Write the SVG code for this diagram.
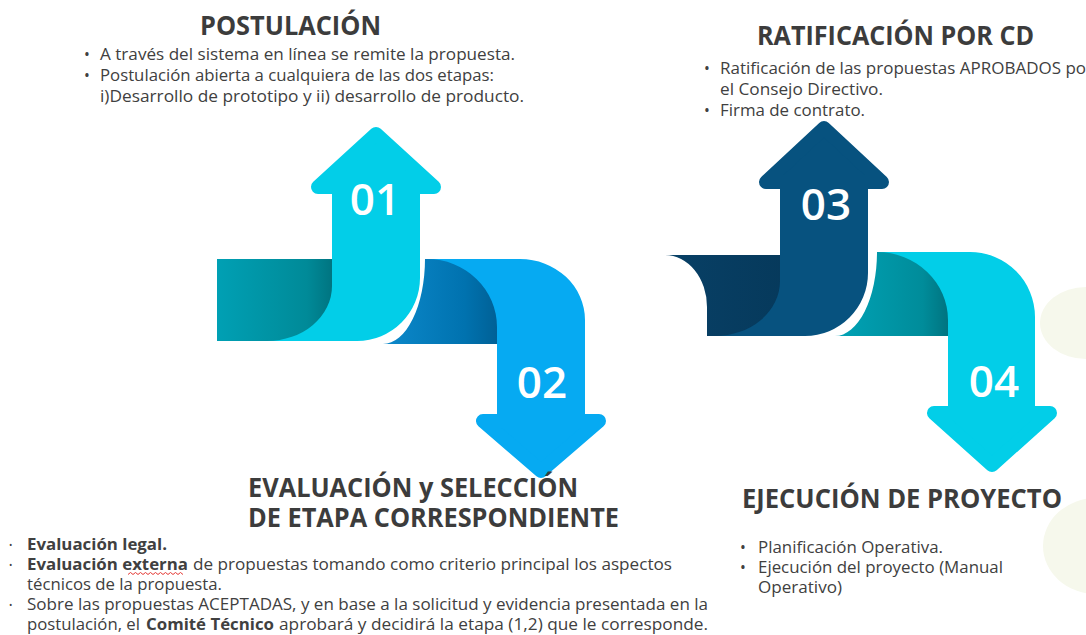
<svg xmlns="http://www.w3.org/2000/svg" width="1086" height="635" viewBox="0 0 1086 635">
<defs>
  <linearGradient id="gTeal1" gradientUnits="userSpaceOnUse" x1="217" y1="0" x2="337" y2="0">
    <stop offset="0" stop-color="#00A0B4"/>
    <stop offset="0.75" stop-color="#008A98"/>
    <stop offset="1" stop-color="#00707C"/>
  </linearGradient>
  <linearGradient id="gTeal4" gradientUnits="userSpaceOnUse" x1="835" y1="0" x2="952" y2="0">
    <stop offset="0" stop-color="#00A3B6"/>
    <stop offset="0.75" stop-color="#008C9A"/>
    <stop offset="1" stop-color="#00707C"/>
  </linearGradient>
  <linearGradient id="gBlue2" gradientUnits="userSpaceOnUse" x1="383" y1="0" x2="500" y2="0">
    <stop offset="0" stop-color="#0C89CB"/>
    <stop offset="0.7" stop-color="#0072AF"/>
    <stop offset="1" stop-color="#005F94"/>
  </linearGradient>
  <linearGradient id="gNavy" gradientUnits="userSpaceOnUse" x1="665" y1="0" x2="790" y2="0">
    <stop offset="0" stop-color="#084066"/>
    <stop offset="1" stop-color="#06395B"/>
  </linearGradient>
  <style>
    .title{font-family:"Open Sans","Liberation Sans",sans-serif;font-weight:700;font-size:27px;fill:#3c3c3c}
    .body{font-family:"Open Sans","Liberation Sans",sans-serif;font-size:15.5px;fill:#404040}
    .b{font-weight:700}
    .tiny{font-family:"Open Sans","Liberation Sans",sans-serif;font-size:9px;fill:#404040}
    .num{font-family:"Open Sans","Liberation Sans",sans-serif;font-weight:600;font-size:44px;fill:#ffffff;text-anchor:middle}
    .head{stroke-width:14;stroke-linejoin:round}
    .blob{fill:#F6F8EC}
  </style>
</defs>
<rect width="1086" height="635" fill="#ffffff"/>

<g id="background">
  <ellipse class="blob" cx="1086" cy="323" rx="46" ry="36"/>
  <ellipse class="blob" cx="1096" cy="546" rx="53" ry="48"/>
</g>

<g id="step01">
  <rect x="217" y="259" width="120" height="82" fill="url(#gTeal1)"/>
  <path d="M267 341 L357 341 A63 63 0 0 0 420 278 L420 190 L332 190 L332 286 A65 55 0 0 1 267 341 Z" fill="#02CEE8"/>
  <polygon class="head" points="318,187 434,187 376,134" fill="#02CEE8" stroke="#02CEE8"/>
  <text class="num" x="375" y="215">01</text>
  <text class="title" x="200" y="35" textLength="181" lengthAdjust="spacingAndGlyphs">POSTULACIÓN</text>
  <text class="body" x="84" y="60">•</text>
  <text class="body" x="100" y="60" textLength="415" lengthAdjust="spacingAndGlyphs">A través del sistema en línea se remite la propuesta.</text>
  <text class="body" x="84" y="81">•</text>
  <text class="body" x="100" y="81" textLength="394" lengthAdjust="spacingAndGlyphs">Postulación abierta a cualquiera de las dos etapas:</text>
  <text class="body" x="100" y="102" textLength="424" lengthAdjust="spacingAndGlyphs">i)Desarrollo de prototipo y ii) desarrollo de producto.</text>
</g>

<g id="step02">
  <path d="M425 259 L500 259 L500 344 L383 344 A42 85 0 0 0 425 259 Z" fill="url(#gBlue2)"/>
  <path d="M427 259 L520 259 A65 61 0 0 1 585 320 L585 422 L497 422 L497 327 A70 68 0 0 0 427 259 Z" fill="#06AAF2"/>
  <polygon class="head" points="483,421 599,421 541,471" fill="#06AAF2" stroke="#06AAF2"/>
  <text class="num" x="542" y="398">02</text>
  <text class="title" x="248" y="497" textLength="330" lengthAdjust="spacingAndGlyphs">EVALUACIÓN y SELECCIÓN</text>
  <text class="title" x="248" y="527" textLength="371" lengthAdjust="spacingAndGlyphs">DE ETAPA CORRESPONDIENTE</text>
  <text class="tiny" x="9" y="548">•</text>
  <text class="body" x="27" y="550"><tspan class="b" textLength="140" lengthAdjust="spacingAndGlyphs">Evaluación legal.</tspan></text>
  <text class="tiny" x="9" y="568">•</text>
  <text class="body" y="570"><tspan class="b" x="27" textLength="161" lengthAdjust="spacingAndGlyphs">Evaluación externa</tspan><tspan x="193" textLength="479" lengthAdjust="spacingAndGlyphs">de propuestas tomando como criterio principal los aspectos</tspan></text>
  <path d="M128 574.5 l2.5 -2 l2.5 2 l2.5 -2 l2.5 2 l2.5 -2 l2.5 2 l2.5 -2 l2.5 2 l2.5 -2 l2.5 2 l2.5 -2 l2.5 2 l2.5 -2 l2.5 2 l2.5 -2 l2.5 2 l2.5 -2 l2.5 2 l2.5 -2 l2.5 2 l2.5 -2 l2.5 2" fill="none" stroke="#E53935" stroke-width="1"/>
  <text class="body" x="27" y="590" textLength="195" lengthAdjust="spacingAndGlyphs">técnicos de la propuesta.</text>
  <text class="tiny" x="9" y="608">•</text>
  <text class="body" x="27" y="610" textLength="681" lengthAdjust="spacingAndGlyphs">Sobre las propuestas ACEPTADAS, y en base a la solicitud y evidencia presentada en la</text>
  <text class="body" y="630"><tspan x="27" textLength="113" lengthAdjust="spacingAndGlyphs">postulación, el</tspan><tspan class="b" x="146" textLength="128" lengthAdjust="spacingAndGlyphs">Comité Técnico</tspan><tspan x="279" textLength="429" lengthAdjust="spacingAndGlyphs">aprobará y decidirá la etapa (1,2) que le corresponde.</tspan></text>
</g>

<g id="step03">
  <path d="M665 255 L790 255 L790 336 L707 336 L707 307 A42 52 0 0 0 665 255 Z" fill="url(#gNavy)"/>
  <path d="M715 336 L805 336 A63 63 0 0 0 868 273 L868 185 L780 185 L780 281 A65 55 0 0 1 715 336 Z" fill="#07527F"/>
  <polygon class="head" points="766,182 882,182 824,128" fill="#07527F" stroke="#07527F"/>
  <text class="num" x="826" y="220">03</text>
  <text class="title" x="757" y="45" textLength="277" lengthAdjust="spacingAndGlyphs">RATIFICACIÓN POR CD</text>
  <text class="body" x="704" y="74">•</text>
  <text class="body" x="720" y="74" textLength="366" lengthAdjust="spacingAndGlyphs">Ratificación de las propuestas APROBADOS po</text>
  <text class="body" x="720" y="95" textLength="163" lengthAdjust="spacingAndGlyphs">el Consejo Directivo.</text>
  <text class="body" x="704" y="116">•</text>
  <text class="body" x="720" y="116" textLength="145" lengthAdjust="spacingAndGlyphs">Firma de contrato.</text>
</g>

<g id="step04">
  <path d="M877 252 L952 252 L952 336 L835 336 A42 84 0 0 0 877 252 Z" fill="url(#gTeal4)"/>
  <path d="M877 252 L970 252 A65 65 0 0 1 1035 317 L1035 415 L948 415 L948 320 A71 68 0 0 0 877 252 Z" fill="#02CEE8"/>
  <polygon class="head" points="934,413 1050,413 992,465" fill="#02CEE8" stroke="#02CEE8"/>
  <text class="num" x="994" y="397">04</text>
  <text class="title" x="742" y="508" textLength="320" lengthAdjust="spacingAndGlyphs">EJECUCIÓN DE PROYECTO</text>
  <text class="body" x="740" y="553">•</text>
  <text class="body" x="758" y="553" textLength="185" lengthAdjust="spacingAndGlyphs">Planificación Operativa.</text>
  <text class="body" x="740" y="573">•</text>
  <text class="body" x="758" y="573" textLength="245" lengthAdjust="spacingAndGlyphs">Ejecución del proyecto (Manual</text>
  <text class="body" x="758" y="593" textLength="84" lengthAdjust="spacingAndGlyphs">Operativo)</text>
</g>
</svg>
